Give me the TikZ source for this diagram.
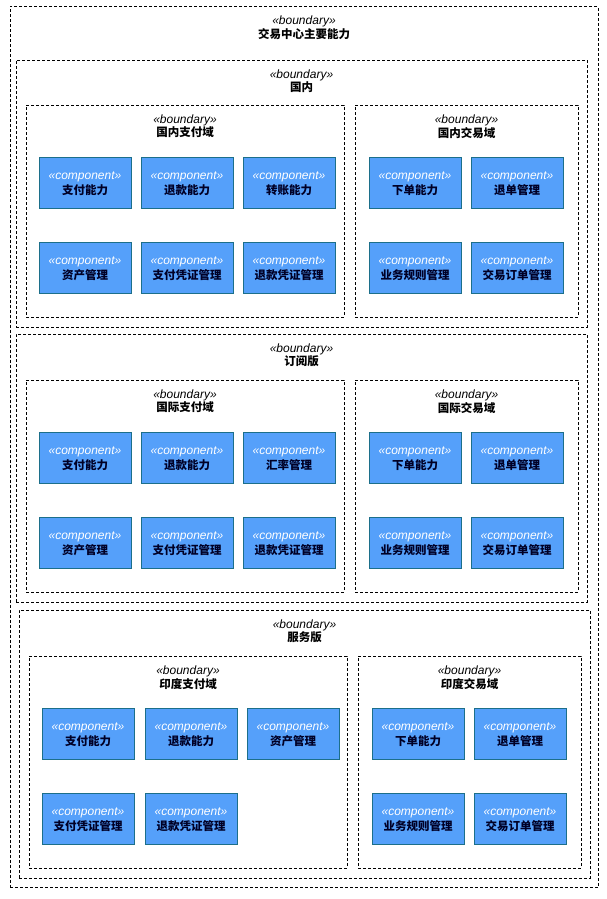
\documentclass[tikz,border=0pt]{standalone}
\usepackage{fontspec}
\setmainfont{Liberation Sans}
\newfontfamily\cjk{Noto Sans CJK SC}
\usepackage{xcolor}
\usepackage{tikz}
\usetikzlibrary{positioning}
\definecolor{compfill}{HTML}{55A0FA}
\definecolor{compline}{HTML}{1C6F8A}
\tikzset{
  bnd/.style={draw, dash pattern=on 3pt off 2pt, line width=0.8pt, inner sep=0pt},
  comp/.style={draw=compline, fill=compfill, line width=0.9pt, minimum width=92pt, minimum height=51pt, inner sep=0pt},
  stereo/.style={font=\fontsize{12}{13}\selectfont\itshape, inner sep=0pt},
  bname/.style={font=\fontsize{11.5}{13}\selectfont\cjk\bfseries, inner sep=0pt}
}
\newcommand{\compbox}[4]{%
  \node[comp] (#1) at (#2,#3) {};
  \node[stereo, white] at ([yshift=5.5pt]#1.center) {«component»};
  \node[bname, text=black!85!blue] at ([yshift=-8pt]#1.center) {#4};
}
\newcommand{\bndbox}[6]{%
  \node[bnd, minimum width=#4pt, minimum height=#5pt] (#1) at (#2,#3) {};
  \node[stereo] at ([yshift=-15.5pt]#1.north) {«boundary»};
  \node[bname] at ([yshift=-28pt]#1.north) {#6};
}

\begin{document}
\begin{tikzpicture}[x=1pt, y=-1pt]
\useasboundingbox (0,0) rectangle (606,899);

%outer boundary
\bndbox{main}{304}{447}{588}{881}{交易中心主要能力}

%domestic
\bndbox{cn}{301.5}{193.5}{571}{267}{国内}
\bndbox{cnpay}{185}{211}{318}{212}{国内支付域}
\bndbox{cntrade}{466.5}{211}{223}{212}{国内交易域}

\compbox{cnp1}{85}{182.5}{支付能力}
\compbox{cnp2}{187}{182.5}{退款能力}
\compbox{cnp3}{289}{182.5}{转账能力}
\compbox{cnp4}{85}{267.5}{资产管理}
\compbox{cnp5}{187}{267.5}{支付凭证管理}
\compbox{cnp6}{289}{267.5}{退款凭证管理}

\compbox{cnt1}{415}{182.5}{下单能力}
\compbox{cnt2}{517}{182.5}{退单管理}
\compbox{cnt3}{415}{267.5}{业务规则管理}
\compbox{cnt4}{517}{267.5}{交易订单管理}

%subscription
\bndbox{sub}{301.5}{468}{571}{268}{订阅版}
\bndbox{subpay}{185}{486}{318}{212}{国际支付域}
\bndbox{subtrade}{466.5}{486}{223}{212}{国际交易域}

\compbox{sup1}{85}{457.5}{支付能力}
\compbox{sup2}{187}{457.5}{退款能力}
\compbox{sup3}{289}{457.5}{汇率管理}
\compbox{sup4}{85}{542.5}{资产管理}
\compbox{sup5}{187}{542.5}{支付凭证管理}
\compbox{sup6}{289}{542.5}{退款凭证管理}

\compbox{sut1}{415}{457.5}{下单能力}
\compbox{sut2}{517}{457.5}{退单管理}
\compbox{sut3}{415}{542.5}{业务规则管理}
\compbox{sut4}{517}{542.5}{交易订单管理}

%service
\bndbox{svc}{304.5}{744}{571}{268}{服务版}
\bndbox{inpay}{188}{762}{318}{212}{印度支付域}
\bndbox{intrade}{469.5}{762}{223}{212}{印度交易域}

\compbox{inp1}{88}{733.5}{支付能力}
\compbox{inp2}{191}{733.5}{退款能力}
\compbox{inp3}{293}{733.5}{资产管理}
\compbox{inp4}{88}{818.5}{支付凭证管理}
\compbox{inp5}{191}{818.5}{退款凭证管理}

\compbox{int1}{418}{733.5}{下单能力}
\compbox{int2}{520}{733.5}{退单管理}
\compbox{int3}{418}{818.5}{业务规则管理}
\compbox{int4}{520}{818.5}{交易订单管理}

\end{tikzpicture}
\end{document}
